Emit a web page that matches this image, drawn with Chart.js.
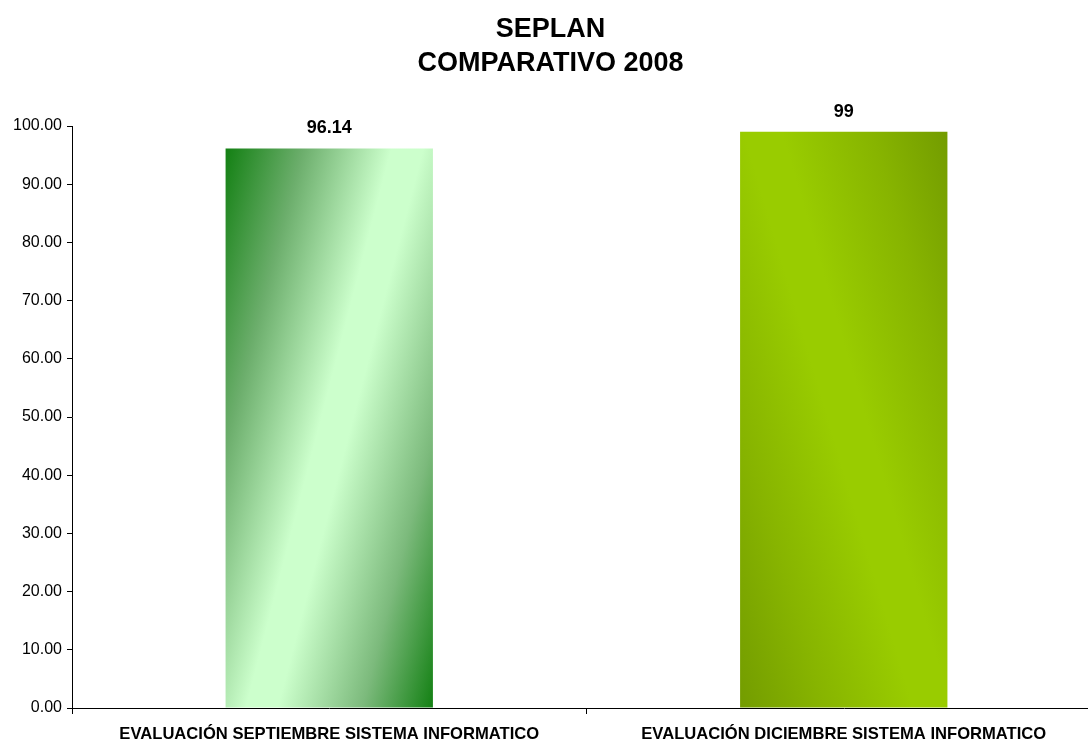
<!DOCTYPE html>
<html>
<head>
<meta charset="utf-8">
<script src="https://cdn.jsdelivr.net/npm/chart.js@4/dist/chart.umd.min.js"></script>
<style>
  html, body { margin: 0; padding: 0; background: #fff; overflow: hidden; width: 1088px; height: 740px; }
  #wrap { position: relative; width: 1101px; height: 740px; }
</style>
</head>
<body>
<div id="wrap"><canvas id="c"></canvas></div>
<script>
// ---- data ----
const titleLines = ['SEPLAN', 'COMPARATIVO 2008'];
const categories = ['EVALUACIÓN SEPTIEMBRE SISTEMA INFORMATICO', 'EVALUACIÓN DICIEMBRE SISTEMA INFORMATICO'];
const values = [96.14, 99];
const valueLabels = ['96.14', '99'];
const yMin = 0;
const yMax = 100;
const yStep = 10;

// ---- styles ----
const FONT = "'Liberation Sans', Arial, Helvetica, sans-serif";
const BAR_PCT = 0.403;
// per bar: gradient direction and colour stops
const barGradients = [
  { dir: [0.968, 0.252], stops: [[0, '#138013'], [0.22, '#6cae6c'], [0.47, '#ccffcc'], [0.56, '#ccffcc'], [0.8, '#7cba7c'], [1, '#138013']] },
  { dir: [0.959, -0.282], stops: [[0, '#739c00'], [0.22, '#87b400'], [0.46, '#99cc00'], [0.56, '#99cc00'], [0.8, '#87b400'], [1, '#739c00']] }
];

function makeGrad(c2d, l, t, r, b, g) {
  const len = Math.hypot(g.dir[0], g.dir[1]);
  const dx = g.dir[0] / len, dy = g.dir[1] / len;
  const corners = [[l, t], [r, t], [l, b], [r, b]];
  const proj = corners.map(p => p[0] * dx + p[1] * dy);
  const pmin = Math.min(...proj), pmax = Math.max(...proj);
  const cx = (l + r) / 2, cy = (t + b) / 2, pc = cx * dx + cy * dy;
  const x0 = cx + dx * (pmin - pc), y0 = cy + dy * (pmin - pc);
  const x1 = cx + dx * (pmax - pc), y1 = cy + dy * (pmax - pc);
  const grad = c2d.createLinearGradient(x0, y0, x1, y1);
  g.stops.forEach(s => grad.addColorStop(s[0], s[1]));
  return grad;
}

function barFill(ctx) {
  const chart = ctx.chart;
  const i = ctx.dataIndex;
  const g = barGradients[i % barGradients.length];
  if (!chart.chartArea || ctx.type !== 'data') return g.stops[2][1];
  const xs = chart.scales.x, ys = chart.scales.y;
  const cx = xs.getPixelForValue(i);
  const w = (xs.width / categories.length) * BAR_PCT;
  const top = ys.getPixelForValue(values[i]);
  const bottom = ys.getPixelForValue(0);
  return makeGrad(chart.ctx, cx - w / 2, top, cx + w / 2, bottom, g);
}

const valueLabelPlugin = {
  id: 'valueLabels',
  afterDatasetsDraw(chart) {
    const c = chart.ctx;
    const meta = chart.getDatasetMeta(0);
    c.save();
    c.font = 'bold 18px ' + FONT;
    c.fillStyle = '#000';
    c.textAlign = 'center';
    c.textBaseline = 'middle';
    meta.data.forEach((el, i) => {
      c.fillText(valueLabels[i], el.x, el.y - 20);
    });
    c.restore();
  }
};

new Chart(document.getElementById('c'), {
  type: 'bar',
  data: {
    labels: categories,
    datasets: [{
      data: values,
      backgroundColor: barFill,
      borderWidth: 0,
      barPercentage: BAR_PCT,
      categoryPercentage: 1
    }]
  },
  options: {
    responsive: true,
    maintainAspectRatio: false,
    animation: false,
    layout: { padding: { left: 0, right: 0, top: 0, bottom: 0 } },
    plugins: {
      legend: { display: false },
      tooltip: { enabled: false },
      title: {
        display: true,
        text: titleLines,
        color: '#000',
        font: { family: FONT, size: 27, weight: 'bold', lineHeight: 1.26 },
        padding: { top: 13, bottom: 45 }
      }
    },
    scales: {
      x: {
        offset: true,
        grid: { display: true, drawOnChartArea: false, offset: true, tickLength: 6, color: '#000', lineWidth: 1 },
        border: { display: true, color: '#000', width: 1 },
        ticks: {
          color: '#000',
          padding: 10,
          maxRotation: 0,
          autoSkip: false,
          font: { family: FONT, size: 16.6, weight: 'bold' }
        },
        afterFit(scale) { scale.height = 32; }
      },
      y: {
        min: yMin,
        max: yMax,
        grid: { display: true, drawOnChartArea: false, tickLength: 5, color: '#000', lineWidth: 1 },
        border: { display: true, color: '#000', width: 1 },
        ticks: {
          stepSize: yStep,
          color: '#000',
          padding: 5,
          font: { family: FONT, size: 16 },
          callback: v => Number(v).toFixed(2)
        },
        afterFit(scale) { scale.width = 72; }
      }
    }
  },
  plugins: [valueLabelPlugin]
});
</script>
</body>
</html>
